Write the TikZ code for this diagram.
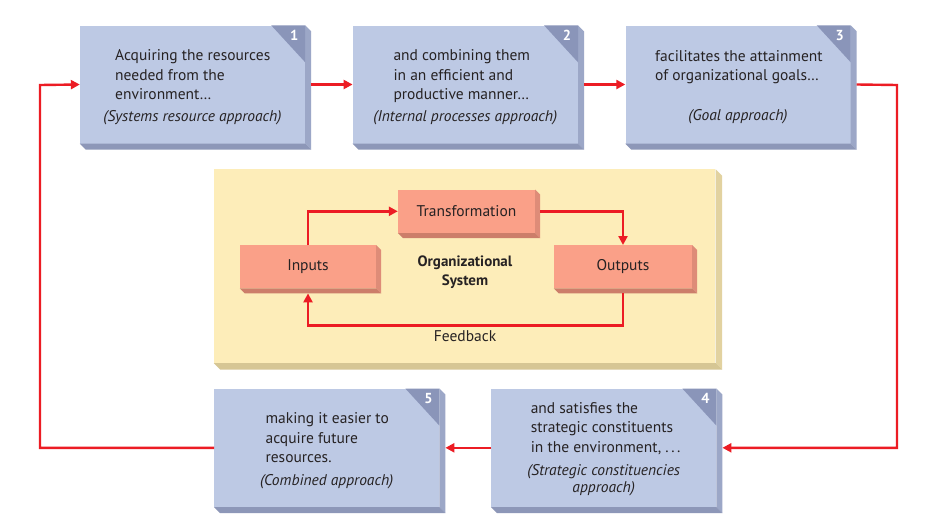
\documentclass[tikz,border=0pt]{standalone}
\usepackage{fontspec}
\setmainfont{PT Sans}
\usetikzlibrary{arrows.meta}

\definecolor{cardblue}{RGB}{189,201,228}
\definecolor{cardside}{RGB}{156,167,199}
\definecolor{cardbottom}{RGB}{141,151,184}
\definecolor{tabblue}{RGB}{138,149,185}
\definecolor{sysyellow}{RGB}{253,237,185}
\definecolor{sysside}{RGB}{226,210,160}
\definecolor{sysbottom}{RGB}{214,198,148}
\definecolor{unitsalmon}{RGB}{250,160,136}
\definecolor{unitside}{RGB}{222,140,120}
\definecolor{unitbottom}{RGB}{204,126,106}
\definecolor{flowred}{RGB}{236,28,36}
\definecolor{textgray}{RGB}{38,34,35}

\tikzset{
  card/.style={fill=cardblue, minimum width=225pt, minimum height=118pt, inner sep=0pt},
  unit/.style={fill=unitsalmon, minimum width=137pt, minimum height=43pt, inner sep=0pt,
    text=textgray, font=\fontsize{15.5}{19.5}\selectfont},
  said/.style={anchor=north west, align=left, inner sep=0pt, text=textgray,
    font=\fontsize{15.5}{19.5}\selectfont},
  approach/.style={align=center, inner sep=0pt, text=textgray,
    font=\fontsize{15.5}{17.5}\selectfont\itshape},
  stepnum/.style={inner sep=0pt, text=white, font=\fontsize{14.5}{15}\selectfont\bfseries},
  flow/.style={->, draw=flowred, line width=2.4pt}
}

\begin{document}
\begin{tikzpicture}[x=1pt, y=-1pt, >={Triangle[length=9pt,width=9pt]}]
  \path[use as bounding box, fill=white] (0,0) rectangle (941,522);

  % the five steps
  \node[card] (s1) at (192.5,84.5) {};
  \node[card] (s2) at (465.3,84.5) {};
  \node[card] (s3) at (738,84.5) {};
  \node[card] (s4) at (603.7,447.8) {};
  \node[card] (s5) at (326.7,447.8) {};

  % organizational system in the middle
  \node[fill=sysyellow, minimum width=501.5pt, minimum height=193.5pt, inner sep=0pt] (org) at (464.7,266.2) {};
  \node[unit] (tr) at (466.5,211.3) {Transformation};
  \node[unit, minimum width=136pt] (in) at (308,266.7) {Inputs};
  \node[unit, minimum width=138pt] (out) at (623,266.7) {Outputs};

  % extruded sides
  \foreach \n/\sc/\bc/\d in {s1/cardside/cardbottom/6, s2/cardside/cardbottom/6,
      s3/cardside/cardbottom/6, s4/cardside/cardbottom/6, s5/cardside/cardbottom/6,
      org/sysside/sysbottom/6.5, tr/unitside/unitbottom/5, in/unitside/unitbottom/5,
      out/unitside/unitbottom/5} {
    \fill[\sc] (\n.north east) -- ++(\d,\d) -- ([shift={(\d,\d)}]\n.south east) -- (\n.south east) -- cycle;
    \fill[\bc] (\n.south west) -- (\n.south east) -- ([shift={(\d,\d)}]\n.south east)
      -- ([shift={(\d,\d)}]\n.south west) -- cycle;
  }

  % numbered corners
  \foreach \n/\k in {s1/1, s2/2, s3/3, s4/4, s5/5} {
    \fill[tabblue] (\n.north east) -- ++(-34,0) -- ([yshift=-37pt]\n.north east) -- cycle;
    \node[stepnum] (k\k) at ([shift={(-11,10)}]\n.north east) {\k};
  }

  % texts
  \node[said] (t1) at (115,49.6) {Acquiring the resources\\needed from the\\environment\ldots};
  \node[approach] (a1) at (192.5,117.7) {(Systems resource approach)};
  \node[said] (t2) at (393.3,49.6) {and combining them\\in an efficient and\\productive manner\ldots};
  \node[approach] (a2) at (465.3,117.7) {(Internal processes approach)};
  \node[said] (t3) at (655,50.3) {facilitates the attainment\\of organizational goals\ldots};
  \node[approach] (a3) at (738,116.7) {(Goal approach)};
  \node[said] (t4) at (530.6,402.3) {and satisfies the\\strategic constituents\\in the environment, .\,.\,.};
  \node[approach] (a4) at (603.7,480) {(Strategic constituencies\\approach)};
  \node[said] (t5) at (265.4,412.6) {making it easier to\\acquire future\\resources.};
  \node[approach] (a5) at (326.7,481.7) {(Combined approach)};
  \node[align=center, inner sep=0pt, text=textgray, font=\fontsize{15}{19}\selectfont\bfseries] (osys) at (465,272.5) {Organizational\\System};

  % connectors
  \coordinate (rr) at (897,85);
  \coordinate (ll) at (40,85);
  \coordinate (fb) at (465,325.6);
  \draw[flow] ([xshift=6pt]s1.east) -- (s2.west);
  \draw[flow] ([xshift=6pt]s2.east) -- (s3.west);
  \draw[flow] ([xshift=6pt]s3.east) -- (rr) |- ([xshift=6pt]s4.east);
  \draw[flow] (s4.west) -- ([xshift=6pt]s5.east);
  \draw[flow] (s5.west) -| (ll) -- (s1.west);
  \draw[flow] (in.north) |- (tr.west);
  \draw[flow] ([xshift=5pt]tr.east) -| (out.north);
  \draw[flow] ([yshift=-5pt]out.south) |- (fb) -| ([yshift=-5pt]in.south);
  \node[below=5pt, inner sep=0pt, text=textgray, font=\fontsize{15.5}{17}\selectfont] (fbl) at (fb) {Feedback};
\end{tikzpicture}
\end{document}
